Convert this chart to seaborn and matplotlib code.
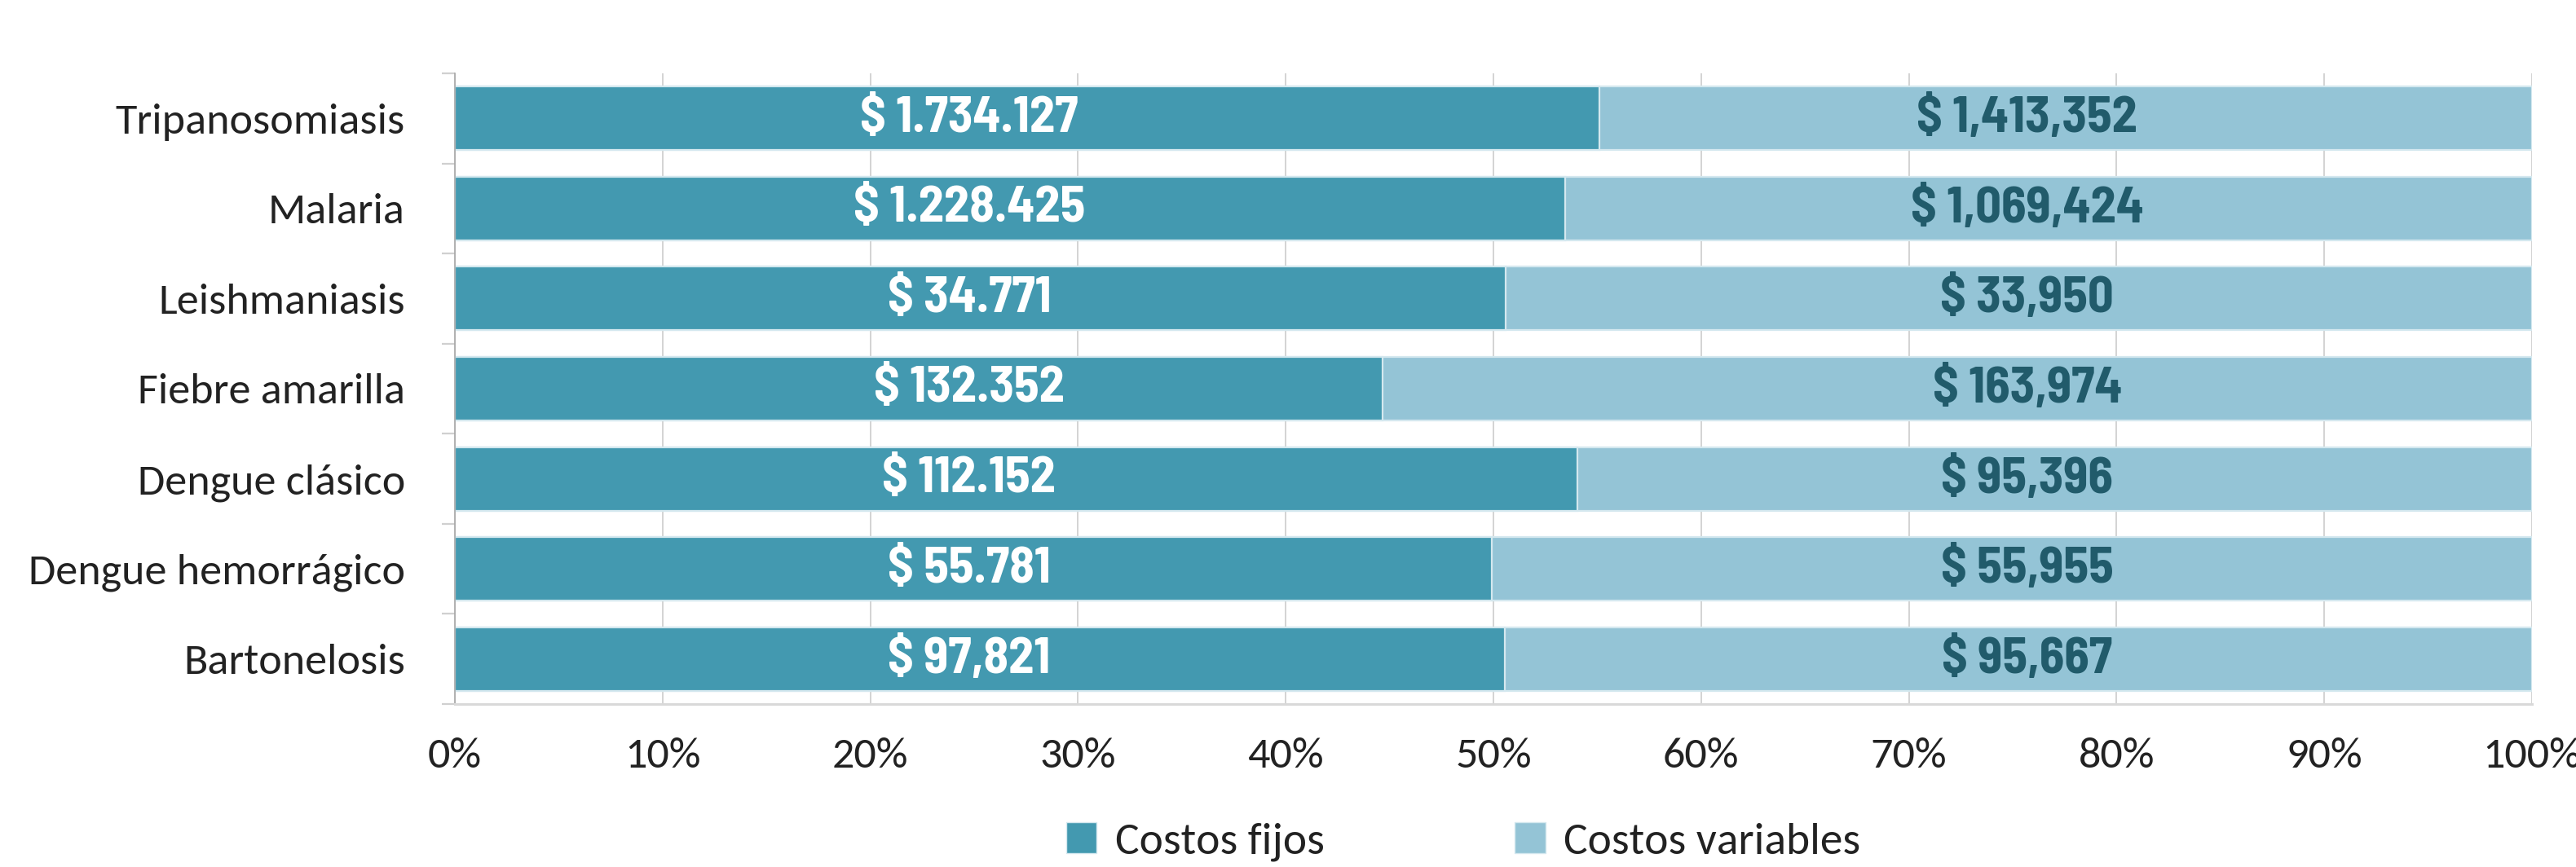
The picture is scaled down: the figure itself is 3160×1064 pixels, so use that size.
import numpy as np
import pandas as pd
import matplotlib.pyplot as plt
import seaborn as sns
from matplotlib.patches import Patch
from matplotlib.ticker import FixedLocator, PercentFormatter

# Data
enfermedades = ['Tripanosomiasis', 'Malaria', 'Leishmaniasis', 'Fiebre amarilla',
                'Dengue clásico', 'Dengue hemorrágico', 'Bartonelosis']
costos_fijos = [1734127, 1228425, 34771, 132352, 112152, 55781, 97821]
costos_variables = [1413352, 1069424, 33950, 163974, 95396, 55955, 95667]
etiquetas_fijos = ['$ 1.734.127', '$ 1.228.425', '$ 34.771', '$ 132.352',
                   '$ 112.152', '$ 55.781', '$ 97,821']
etiquetas_variables = ['$ 1,413,352', '$ 1,069,424', '$ 33,950', '$ 163,974',
                       '$ 95,396', '$ 55,955', '$ 95,667']

color_fijos = '#4399B0'
color_variables = '#94C4D6'

sns.set_theme(style='white')
plt.rcParams['font.family'] = ['Carlito', 'Lato', 'DejaVu Sans']
narrow = ['Barlow Semi Condensed', 'Barlow Condensed', 'DejaVu Sans']

df = pd.DataFrame({'enfermedad': enfermedades,
                   'fijos': costos_fijos,
                   'variables': costos_variables})
df['total'] = df['fijos'] + df['variables']
df['pct_fijos'] = df['fijos'] / df['total']
df['pct_total'] = 1.0

fig = plt.figure(figsize=(15.8, 5.32), dpi=200)
ax = fig.add_axes([0.1766, 0.188, 0.8063, 0.7274])

# stacked 100% bars: full bar for variables, fixed costs on top
sns.barplot(data=df, x='pct_total', y='enfermedad', color=color_variables,
            width=0.705, edgecolor='#d4e8ef', linewidth=0.8, ax=ax, saturation=1)
sns.barplot(data=df, x='pct_fijos', y='enfermedad', color=color_fijos,
            width=0.705, edgecolor='#d4e8ef', linewidth=0.8, ax=ax, saturation=1)

# value labels
for i in range(len(enfermedades)):
    ax.text(0.2476, i, etiquetas_fijos[i], ha='center', va='center',
            color='white', fontsize=22.5, fontweight=700, family=narrow)
    ax.text(0.757, i, etiquetas_variables[i], ha='center', va='center',
            color='#215B6B', fontsize=22.5, fontweight=700, family=narrow)

ax.set_xlim(0, 1)
ax.set_ylim(len(enfermedades) - 0.5, -0.5)
ax.set_xticks(np.linspace(0, 1, 11))
ax.xaxis.set_major_formatter(PercentFormatter(1.0, decimals=0))
ax.set_xlabel('')
ax.set_ylabel('')

ax.grid(axis='x', color='#cccccc', linewidth=0.6)
ax.grid(axis='y', visible=False)
ax.set_axisbelow(True)

for s in ['top', 'right']:
    ax.spines[s].set_visible(False)
ax.spines['left'].set_color('#a6a6a6')
ax.spines['left'].set_linewidth(0.6)
ax.spines['bottom'].set_color('#d9d9d9')
ax.spines['bottom'].set_linewidth(1.1)

ax.tick_params(axis='x', which='major', length=5.8, width=0.6, color='#cccccc',
               pad=9, labelsize=19.5, labelcolor='#222222')
ax.tick_params(axis='y', which='major', length=0, pad=22, labelsize=19.5,
               labelcolor='#222222')
ax.yaxis.set_minor_locator(FixedLocator(np.arange(-0.5, len(enfermedades), 1.0)))
ax.tick_params(axis='y', which='minor', length=5.8, width=0.8, color='#d0d0d0',
               left=True)

handles = [Patch(facecolor=color_fijos, edgecolor='#d4e8ef', linewidth=0.5, label='Costos fijos'),
           Patch(facecolor=color_variables, edgecolor='#d4e8ef', linewidth=0.5, label='Costos variables')]
fig.legend(handles=handles, loc='center', bbox_to_anchor=(0.568, 0.029), ncol=2,
           frameon=False, fontsize=20, handlelength=0.68, handleheight=0.68,
           handletextpad=0.4, columnspacing=4.2, labelcolor='#222222')

fig.savefig('out.png', dpi=200)
